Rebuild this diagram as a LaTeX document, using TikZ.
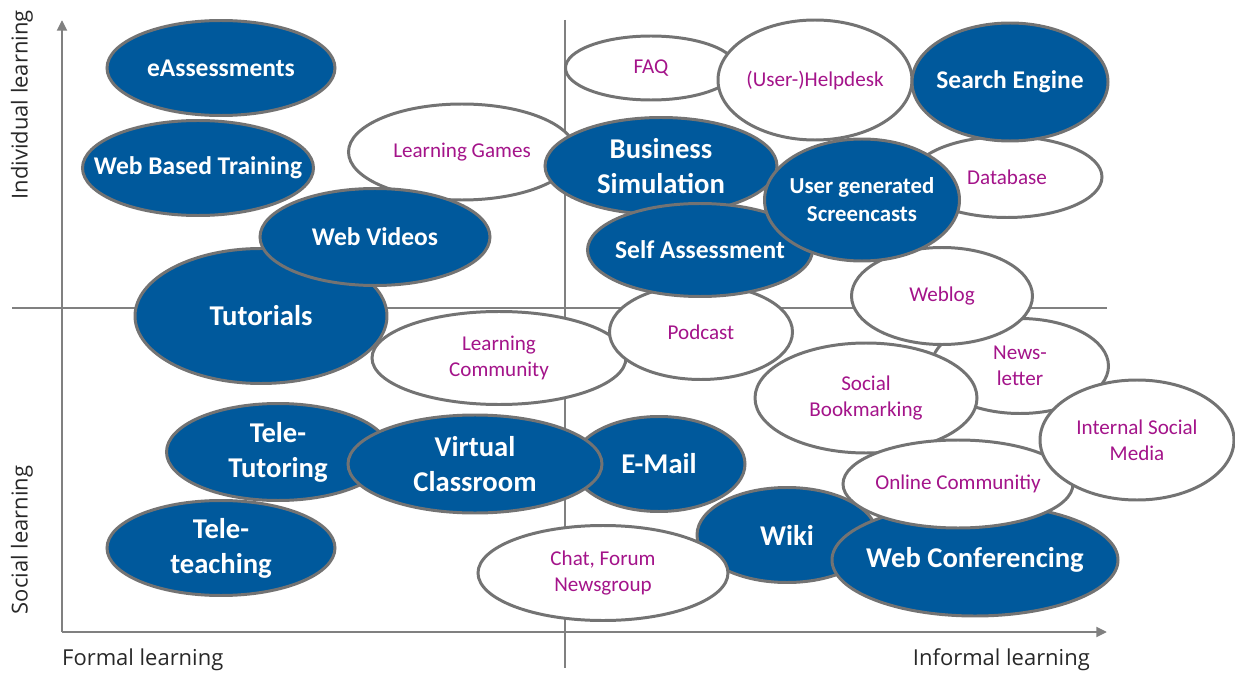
\documentclass[tikz,border=0pt]{standalone}
\usepackage{fontspec}
\setmainfont{Carlito}
\newfontfamily\axisfont{Open Sans}
\usetikzlibrary{shapes.geometric,arrows.meta}

\definecolor{toolblue}{RGB}{0,89,156}
\definecolor{rimgray}{RGB}{115,115,115}
\definecolor{axisgray}{RGB}{128,128,128}
\definecolor{mediapink}{RGB}{164,20,138}
\definecolor{labelgray}{RGB}{40,40,40}

\begin{document}
\begin{tikzpicture}[
  x=0.2mm, y=-0.2mm,
  >={Triangle[length=6pt,width=5.5pt]},
  axis/.style={draw=axisgray, line width=1.7pt},
  axislabel/.style={text=labelgray, font=\axisfont\fontsize{12.5}{14}\selectfont},
  topic/.style 2 args={ellipse, draw=rimgray, line width=1.7pt, inner sep=-20pt,
    minimum width=#1*0.2mm, minimum height=#2*0.2mm, align=center},
  tool/.style={fill=toolblue, text=white, font=\bfseries\fontsize{16.3}{20}\selectfont},
  small tool/.style={tool, font=\bfseries\fontsize{14.5}{19}\selectfont},
  media/.style={fill=white, text=mediapink, font=\fontsize{12}{15}\selectfont}
]
  \useasboundingbox (0,0) rectangle (1235,675);

  % axes and quadrants
  \coordinate (origin) at (62,632);
  \coordinate (ytip) at (62,20);
  \coordinate (xtip) at (1107,632);
  \coordinate (midleft) at (12,308);
  \coordinate (midright) at (1107,308);
  \coordinate (midtop) at (565,20);
  \coordinate (midbottom) at (565,668);
  \draw[axis,->] (origin) -- (ytip);
  \draw[axis,->] (origin) -- (xtip);
  \draw[axis] (midleft) -- (midright);
  \draw[axis] (midtop) -- (midbottom);

  \node[axislabel,rotate=90] (individual) at (22,105) {Individual learning};
  \node[axislabel,rotate=90] (social) at (22,540) {Social learning};
  \node[axislabel,anchor=west] (formal) at (56,660) {Formal learning};
  \node[axislabel,anchor=east] (informal) at (1096,660) {Informal learning};

  % formal, individual
  \node[topic={228}{95},small tool] (eassess) at (221,68) {eAssessments};
  \node[topic={231}{95},small tool] (wbt) at (198,168) {Web Based Training};
  \node[topic={227}{96},media] (games) at (462,152) {Learning Games};
  \node[topic={252}{135},tool] (tutorials) at (261,316) {Tutorials};
  \node[topic={230}{97},small tool] (videos) at (375,237) {Web Videos};
  \node[topic={254}{93},media] (community) at (499,358) {Learning\\Community};

  % informal, individual
  \node[topic={171}{64},media] (faq) at (651,68) {FAQ};
  \node[topic={194}{120},media] (helpdesk) at (815,80) {(User-)Helpdesk};
  \node[topic={190}{81},media] (database) at (1007,177) {\hspace*{0pt}Database};
  \node[topic={196}{118},small tool] (search) at (1010,82) {Search Engine};
  \node[topic={183}{95},media] (podcast) at (701,332) {Podcast};
  \node[topic={232}{97},tool] (business) at (661,166) {Business\\Simulation};
  \node[topic={225}{93},small tool] (selfassess) at (700,250) {Self Assessment};
  \node[topic={177}{95},media] (newsletter) at (1020,366) {News-\\letter};
  \node[topic={181}{97},media] (weblog) at (942,296) {Weblog};
  \node[topic={195}{122},tool,font=\bfseries\fontsize{13}{16}\selectfont] (screencasts) at (862,200) {User generated\\Screencasts};
  \node[topic={222}{110},media] (bookmarking) at (866,398) {Social\\Bookmarking};

  % social
  \node[topic={172}{95},tool] (email) at (659,464) {E-Mail};
  \node[topic={223}{97},tool] (teletutor) at (278,452) {Tele-\\Tutoring};
  \node[topic={254}{98},tool] (virtual) at (475,464) {Virtual\\Classroom};
  \node[topic={228}{95},tool] (teleteach) at (221,548) {Tele-\\teaching};
  \node[topic={180}{95},tool] (wiki) at (787,535) {Wiki};
  \node[topic={250}{95},media] (chat) at (603,573) {Chat, Forum\\Newsgroup};
  \node[topic={286}{112},tool] (webconf) at (975,560) {Web Conferencing};
  \node[topic={230}{88},media] (online) at (958,484) {Online Communitiy};
  \node[topic={194}{120},media] (socialmedia) at (1137,440) {Internal Social\\Media};
\end{tikzpicture}
\end{document}
